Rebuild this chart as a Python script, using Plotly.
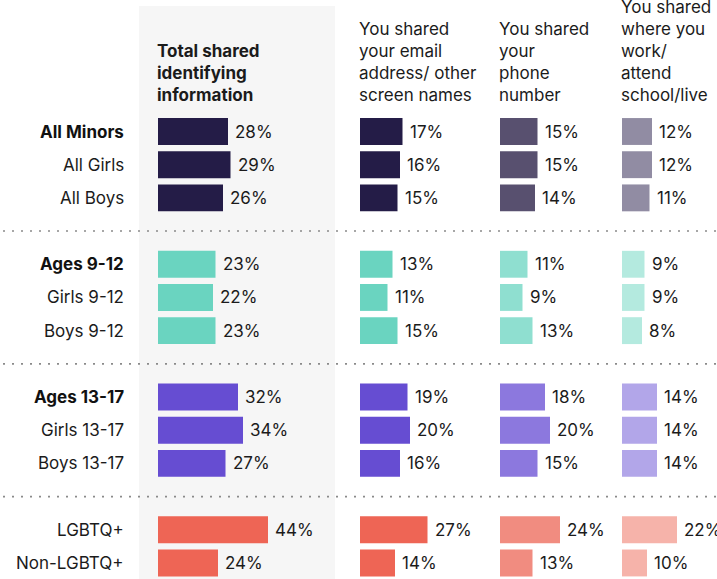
import plotly.graph_objects as go

W, H = 717, 579

# ---- data ----
row_labels = ["All Minors", "All Girls", "All Boys",
              "Ages 9-12", "Girls 9-12", "Boys 9-12",
              "Ages 13-17", "Girls 13-17", "Boys 13-17",
              "LGBTQ+", "Non-LGBTQ+"]
row_group = [0, 0, 0, 1, 1, 1, 2, 2, 2, 3, 3]
row_bold = [True, False, False, True, False, False, True, False, False, False, False]

col_headers = [
    "Total shared<br>identifying<br>information",
    "You shared<br>your email<br>address/ other<br>screen names",
    "You shared<br>your<br>phone<br>number",
    "You shared<br>where you<br>work/<br>attend<br>school/live",
]
total_shared = [28, 29, 26, 23, 22, 23, 32, 34, 27, 44, 24]
email_screen = [17, 16, 15, 13, 11, 15, 19, 20, 16, 27, 14]
phone_number = [15, 15, 14, 11, 9, 13, 18, 20, 15, 24, 13]
where_work = [12, 12, 11, 9, 9, 8, 14, 14, 14, 22, 10]
series = [total_shared, email_screen, phone_number, where_work]

# ---- styles ----
group_colors = [
    ["#241c47", "#241c47", "#58506f", "#918ca3"],
    ["#6ad4c0", "#6ad4c0", "#8fdfd0", "#b4eadf"],
    ["#664dd2", "#664dd2", "#8c78de", "#b2a6e9"],
    ["#ee6555", "#ee6555", "#f18c80", "#f6b3aa"],
]
FONT = "Inter"
TXT = "#1b1b1b"
FS = 17
PX_PER_PCT = 2.5
col_start_px = [158, 360, 500, 622]
col_end_px = [283, 485, 620, 717]

# y positions: one blank slot between groups
ypos = [i + g for i, g in enumerate(row_group)]
sep_y = [(ypos[i] + ypos[i + 1]) / 2 for i in range(len(ypos) - 1) if row_group[i] != row_group[i + 1]]

fig = go.Figure()
axis_names = ["x", "x2", "x3", "x4"]
for c, vals in enumerate(series):
    fig.add_trace(go.Bar(
        x=vals, y=ypos, orientation="h", xaxis=axis_names[c], yaxis="y",
        marker=dict(color=[group_colors[g][c] for g in row_group], line=dict(width=0)),
        width=0.81, hoverinfo="skip", showlegend=False,
    ))

layout = dict(
    width=W, height=H, margin=dict(l=0, r=0, t=0, b=0),
    paper_bgcolor="white", plot_bgcolor="rgba(0,0,0,0)",
    font=dict(family=FONT, size=FS, color=TXT),
    showlegend=False,
)
for c in range(4):
    key = "xaxis" if c == 0 else f"xaxis{c + 1}"
    d0, d1 = col_start_px[c], col_end_px[c]
    layout[key] = dict(
        domain=[d0 / W, d1 / W], range=[0, (d1 - d0) / PX_PER_PCT],
        anchor="y", visible=False, fixedrange=True,
    )
top_px, step = 131.5, 33.19
layout["yaxis"] = dict(
    domain=[0, 1], range=[(H - top_px) / step, -top_px / step],
    visible=False, fixedrange=True, anchor="x",
)
fig.update_layout(**layout)

shapes = [dict(type="rect", xref="paper", yref="paper",
               x0=139 / W, x1=335 / W, y0=0, y1=1 - 6 / H,
               fillcolor="#f6f6f6", line=dict(width=0), layer="below")]
for sy in sep_y:
    shapes.append(dict(type="line", xref="paper", yref="y", x0=3 / W, x1=1, y0=sy, y1=sy,
                       line=dict(color="#8a8a8a", width=1.6, dash="2px,7px"), layer="above"))
fig.update_layout(shapes=shapes)

ann = []
for c, vals in enumerate(series):
    for v, y in zip(vals, ypos):
        ann.append(dict(x=v, y=y, xref=axis_names[c], yref="y", text=f"{v}%",
                        showarrow=False, xanchor="left", yanchor="middle", xshift=5,
                        font=dict(size=FS, color=TXT, family=FONT)))
for lab, y, b in zip(row_labels, ypos, row_bold):
    ann.append(dict(x=126 / W, y=y, xref="paper", yref="y",
                    text=f"<b>{lab}</b>" if b else lab, showarrow=False,
                    xanchor="right", yanchor="middle",
                    font=dict(size=FS, color="#111111" if b else TXT, family=FONT)))
for c, h in enumerate(col_headers):
    ann.append(dict(x=(col_start_px[c] - 3) / W, y=1 - 107 / H, xref="paper", yref="paper",
                    text=f"<b>{h}</b>" if c == 0 else h, showarrow=False,
                    xanchor="left", yanchor="bottom", align="left",
                    font=dict(size=FS, color=TXT, family=FONT)))
fig.update_layout(annotations=ann)

fig.write_html("out.html", config={"displayModeBar": False},
               post_script="document.body.style.margin='0px';")
